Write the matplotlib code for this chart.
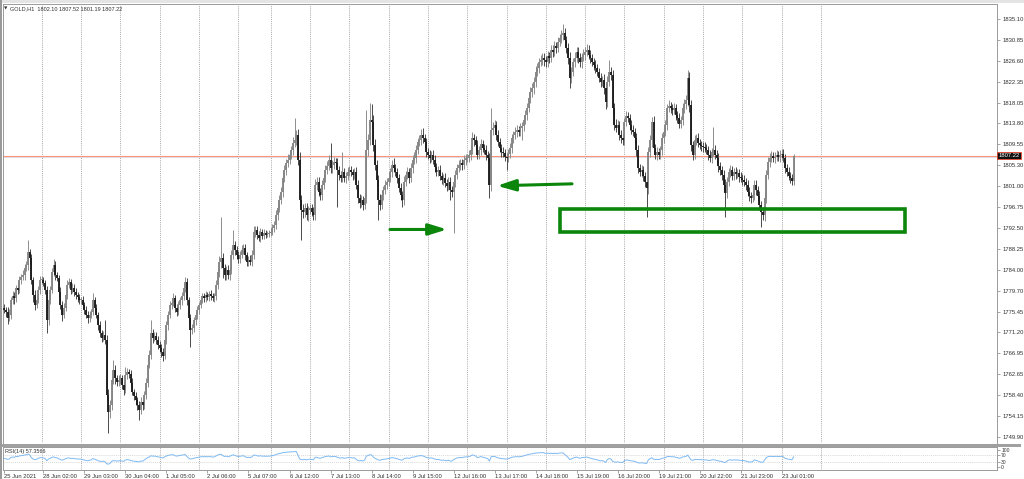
import numpy as np
import matplotlib
matplotlib.use("Agg")
import matplotlib.pyplot as plt
from matplotlib.patches import Rectangle
from matplotlib.transforms import blended_transform_factory

plt.rcParams['font.family'] = ['Liberation Sans', 'DejaVu Sans']

# ---------------- data (GOLD H1 closes, one list per trading day)
d25 = [1775.8,1775.4,1774.2,1774.8,1777.8,1778.6,1778.2,1780.3,1779.9,1781.9,1782.5,1782.9,1784.3,1784.9,1787.6,1786.4,1781.9,1778.8,1776.8,1777.8,1779.9,1781.9]
d28 = [1781.9,1781.3,1779.9,1773.7,1777.8,1779.9,1783.5,1784.9,1782.9,1782.3,1779.5,1776.8,1774.8,1776.2,1778.8,1780.9,1781.5,1779.9,1780.3,1779.5,1778.8,1778.4,1777.8]
d29 = [1777.8,1776.8,1775.8,1774.8,1774.1,1774.8,1775.4,1777.8,1776.2,1774.8,1772.7,1771.1,1770.1,1770.7,1769.7,1758.5,1755.0,1756.4,1761.5,1763.6,1761.9,1761.1,1761.5]
d30 = [1761.9,1760.5,1759.5,1762.5,1763.2,1762.8,1761.0,1759.1,1758.3,1757.4,1756.4,1755.4,1757.0,1756.4,1758.5,1761.0,1764.6,1766.6,1771.1,1770.1,1770.5,1769.7,1768.7]
d01 = [1768.0,1767.2,1766.4,1769.7,1772.7,1774.8,1776.8,1777.2,1778.2,1776.2,1775.4,1776.8,1777.8,1778.6,1780.3,1781.5,1777.8,1774.1,1771.7,1772.1,1773.7,1774.8,1775.8]
d02 = [1776.8,1777.8,1778.6,1778.2,1778.8,1778.4,1779.0,1778.6,1778.2,1778.6,1780.9,1783.5,1785.6,1786.4,1784.3,1782.9,1783.9,1782.9,1783.9,1787.0,1789.0,1788.0,1787.0]
d05 = [1786.2,1787.0,1788.0,1788.4,1787.0,1785.6,1786.0,1785.6,1787.0,1791.7,1792.1,1791.1,1790.5,1791.7,1790.9,1791.5,1791.1,1791.3,1791.5]
d06 = [1791.7,1792.5,1793.1,1795.1,1796.6,1798.2,1799.8,1802.7,1804.3,1805.7,1806.4,1807.4,1808.4,1809.8,1810.4,1811.5,1806.4,1798.2,1796.2,1795.8,1796.6,1795.1,1796.2]
d07 = [1796.6,1795.8,1795.1,1801.3,1801.9,1799.8,1799.2,1801.3,1802.7,1804.3,1805.1,1806.4,1804.7,1805.3,1806.0,1805.8,1804.3,1803.3,1802.7,1803.9,1802.7,1803.1,1803.9]
d08 = [1804.3,1803.9,1803.3,1803.9,1801.3,1798.6,1797.6,1798.2,1797.2,1798.6,1808.4,1810.4,1814.5,1814.1,1809.4,1805.3,1802.3,1798.2,1797.2,1799.2,1800.2,1801.3,1801.9]
d09 = [1802.7,1803.9,1805.3,1804.7,1803.9,1802.7,1800.6,1799.2,1798.2,1801.9,1803.3,1803.9,1802.7,1804.7,1806.4,1806.8,1808.4,1810.0,1810.4,1811.5,1810.8,1810.0,1808.0]
d12 = [1807.4,1806.8,1807.4,1806.4,1805.0,1804.0,1804.3,1803.1,1802.3,1802.7,1801.7,1801.1,1801.9,1800.2,1799.8,1801.9,1803.3,1804.7,1805.3,1805.7,1805.3,1806.4,1806.8]
d13 = [1806.8,1807.4,1808.4,1810.8,1810.4,1809.4,1807.4,1808.4,1809.6,1808.8,1808.4,1807.4,1806.8,1801.3,1812.5,1812.9,1813.5,1811.5,1810.0,1808.8,1808.0,1807.8,1807.0]
d14 = [1806.8,1807.6,1808.8,1810.8,1811.5,1812.1,1812.5,1812.1,1812.9,1813.3,1814.5,1815.5,1817.0,1819.0,1820.2,1821.0,1822.3,1824.3,1825.1,1826.3,1826.7,1827.2,1826.7]
d15 = [1826.3,1827.6,1827.2,1828.8,1828.4,1829.6,1829.2,1830.4,1831.2,1831.8,1832.2,1830.8,1829.2,1827.2,1823.1,1824.3,1826.3,1827.2,1828.4,1827.2,1826.3,1827.4,1827.8]
d16 = [1828.4,1828.8,1827.8,1827.2,1826.3,1825.7,1825.1,1824.3,1823.1,1822.3,1822.7,1821.0,1818.2,1822.3,1824.3,1823.7,1817.0,1813.5,1812.9,1813.5,1811.5,1810.8,1810.4]
d19 = [1814.1,1815.3,1814.9,1813.5,1812.5,1812.1,1810.8,1808.4,1804.7,1803.9,1804.3,1803.1,1801.9,1800.6,1808.0,1810.4,1814.1,1808.8,1807.4,1808.0,1807.4,1808.4,1810.8]
d20 = [1812.1,1813.5,1816.9,1817.4,1816.9,1816.5,1816.9,1815.5,1814.9,1813.7,1814.5,1816.9,1817.8,1818.6,1823.1,1817.6,1809.4,1807.4,1810.4,1810.8,1809.8,1809.4,1809.2]
d21 = [1809.0,1808.8,1808.4,1807.4,1806.8,1808.0,1808.4,1807.4,1806.8,1805.1,1804.3,1803.3,1801.3,1799.6,1801.9,1803.9,1804.3,1803.1,1803.9,1803.5,1803.7,1802.9,1802.7]
d22 = [1802.3,1801.9,1801.3,1799.8,1799.0,1798.6,1799.2,1801.3,1800.2,1799.0,1797.2,1795.8,1795.1,1798.6,1803.3,1805.9,1806.8,1807.2,1806.8,1807.0,1807.4,1807.0,1807.4]
d23 = [1807.6,1806.8,1804.7,1803.9,1803.1,1802.7,1802.1,1807.22]

# upper / lower wick lengths (price units) per bar, same day grouping
uw = [
 [0.8,0.6,0.9,1.2,0.7,1.0,0.8,0.6,1.1,0.9,0.7,1.0,0.8,0.9,2.4,0.7,0.9,0.6,1.0,0.8,0.7,0.9],
 [0.9,0.7,0.6,0.8,1.0,0.7,0.9,1.3,0.8,0.6,0.7,0.9,0.8,1.0,0.7,0.9,0.8,0.6,1.0,0.7,0.8,0.6,0.7],
 [0.7,0.8,0.6,0.9,0.7,0.8,0.6,1.4,0.7,0.8,0.6,0.9,0.7,0.8,3.1,0.9,1.2,1.0,0.8,2.0,0.9,0.7,1.0],
 [0.8,0.7,0.9,1.7,0.8,0.6,0.7,0.9,0.6,0.8,0.7,0.9,1.0,0.7,0.8,0.9,1.1,1.0,2.7,0.9,0.8,0.7,0.8],
 [0.7,0.8,0.9,1.0,0.8,0.7,0.9,0.8,1.0,0.7,0.8,0.9,0.7,0.8,0.9,1.0,0.8,0.7,0.9,0.8,0.7,0.8,0.9],
 [0.7,0.8,0.6,0.7,0.8,0.6,0.7,0.8,0.7,0.6,0.9,1.0,1.2,8.3,1.0,0.9,0.8,1.0,0.9,1.1,3.1,0.9,0.8],
 [0.9,0.8,1.0,0.9,0.8,0.7,0.8,0.9,1.0,1.2,0.9,0.8,0.7,0.8,0.6,0.7,0.6,0.5,0.6],
 [0.6,0.8,0.9,1.0,0.9,1.1,1.0,1.2,1.0,0.9,1.1,1.0,0.9,1.2,4.5,1.0,1.2,1.5,1.0,1.1,0.9,1.0,0.8],
 [0.8,0.7,0.9,1.2,1.0,0.9,0.8,1.0,0.9,1.1,1.0,0.9,3.4,1.0,0.9,0.8,1.0,0.9,0.8,4.1,0.9,0.8,1.0],
 [0.8,0.9,0.7,0.8,1.0,0.9,0.8,1.0,0.9,1.0,8.1,1.2,3.5,3.3,1.5,1.2,1.0,1.1,1.2,1.0,0.9,1.0,0.8],
 [0.9,0.8,1.0,1.5,0.9,0.8,0.9,1.0,0.8,1.1,0.9,1.0,0.8,1.0,0.9,1.1,1.0,0.9,1.0,1.1,1.4,0.9,0.8],
 [0.9,1.0,0.8,0.9,1.0,0.8,0.9,1.0,0.8,0.9,1.0,0.8,0.9,1.0,0.8,1.2,1.0,0.9,1.0,0.8,0.9,1.0,0.8],
 [0.8,0.9,1.0,1.2,0.9,0.8,1.0,0.9,1.1,0.8,0.9,1.0,0.8,1.0,4.4,1.2,1.0,0.9,1.0,0.8,0.9,1.0,0.8],
 [0.8,0.9,1.0,0.9,0.8,1.0,0.9,0.8,1.0,0.9,1.1,1.0,0.9,1.2,1.0,1.1,0.9,1.2,1.0,0.9,1.1,1.0,0.9],
 [0.9,1.0,0.8,1.1,0.9,1.0,0.8,1.0,0.9,1.1,1.8,1.0,0.9,1.0,1.2,1.0,0.9,1.1,1.0,0.9,1.0,0.8,1.1],
 [0.9,1.2,0.9,1.0,0.8,0.9,1.0,0.8,0.9,1.0,0.8,1.1,1.0,1.2,2.4,1.1,1.0,0.9,1.2,1.0,0.9,1.0,0.8],
 [0.9,1.0,0.9,0.8,1.0,0.9,0.8,1.0,1.1,0.9,1.0,0.8,0.9,1.2,1.1,1.0,1.0,1.2,0.9,1.0,0.8,0.9,1.0],
 [0.9,1.0,0.9,1.2,0.8,0.9,1.0,0.8,0.9,1.0,0.8,1.0,0.9,1.0,1.6,1.2,1.0,0.9,1.1,0.9,1.0,0.8,0.9],
 [0.9,1.0,0.8,0.9,1.0,0.8,4.7,1.0,0.9,1.0,0.8,0.9,1.0,1.1,1.0,0.9,1.0,0.8,0.9,1.0,0.8,0.9,1.0],
 [0.9,1.0,0.8,0.9,1.0,0.8,0.9,1.0,0.9,0.8,1.0,0.9,1.0,1.2,1.1,1.0,0.9,1.0,0.8,0.9,1.0,0.8,1.0],
 [0.9,1.0,0.8,0.9,1.0,0.8,0.9,0.3],
]
lw = [
 [0.7,1.0,1.3,0.6,0.9,0.8,1.1,0.7,0.9,0.6,0.8,0.7,1.0,0.6,0.9,1.2,0.8,1.4,1.0,0.7,0.6,0.8],
 [0.8,0.6,0.9,2.6,1.0,0.7,0.6,0.8,0.9,0.7,1.0,0.8,1.2,0.7,0.6,0.8,0.7,0.9,0.6,0.8,0.7,0.9,0.8],
 [0.8,0.7,0.9,0.6,1.0,0.8,0.7,0.6,0.9,0.7,1.0,0.8,0.9,0.7,0.8,1.0,4.3,1.2,0.9,0.8,1.1,0.9,0.8],
 [0.9,0.8,1.0,0.7,0.8,0.9,0.7,0.6,0.8,0.9,1.0,2.0,0.8,0.9,0.7,0.8,0.9,0.7,0.8,1.0,0.7,0.9,0.8],
 [0.8,0.9,1.1,0.7,0.8,0.9,0.7,0.8,0.6,0.9,0.8,0.7,0.8,0.9,0.7,0.8,0.9,1.0,3.5,0.8,0.7,0.9,0.8],
 [0.8,0.7,0.6,0.8,0.7,0.6,0.8,0.7,0.6,0.7,0.8,0.9,1.0,1.2,2.0,1.0,0.9,0.8,1.0,0.8,0.9,1.0,0.8],
 [0.8,0.9,0.7,0.8,1.0,0.9,0.8,0.7,0.9,0.8,1.0,0.9,0.7,0.8,0.6,0.7,0.6,0.5,0.6],
 [0.6,0.7,0.8,0.9,1.0,0.8,0.9,1.0,0.8,0.9,0.7,0.8,0.9,1.0,0.8,0.9,1.0,1.5,6.2,1.2,1.0,0.9,1.1],
 [0.9,0.8,1.0,0.9,1.1,0.8,0.9,1.0,0.8,0.9,0.7,0.8,1.0,0.9,0.8,0.9,7.5,1.0,0.9,0.8,0.9,1.0,0.8],
 [0.8,0.9,1.0,0.8,0.9,1.0,1.1,0.9,1.0,0.8,1.0,1.2,1.0,1.5,1.2,1.0,1.3,4.1,1.1,0.9,1.0,0.8,0.9],
 [0.8,0.9,1.0,0.8,0.9,1.0,0.8,0.9,1.4,1.0,0.8,0.9,1.0,0.8,0.9,0.8,1.0,0.9,0.8,1.0,0.9,1.0,1.1],
 [0.8,1.0,0.9,0.8,1.0,0.9,1.0,0.8,0.9,1.0,0.8,1.1,0.9,2.0,1.0,8.3,1.0,0.9,0.8,1.0,0.9,0.8,1.0],
 [0.9,0.8,1.0,0.9,1.1,1.0,0.9,0.8,1.0,0.9,0.8,1.0,0.9,2.7,1.2,1.0,0.9,1.0,0.8,0.9,1.0,0.8,0.9],
 [2.5,0.9,0.8,1.0,0.9,0.8,1.0,0.9,0.8,2.5,1.0,0.9,1.0,0.8,1.0,0.9,1.1,1.0,0.9,1.0,0.8,0.9,1.2],
 [1.0,0.9,1.1,0.8,1.0,0.9,1.0,0.8,0.9,1.0,0.9,1.1,1.0,1.2,2.0,1.0,0.9,1.0,0.8,1.0,0.9,1.1,0.8],
 [1.0,0.8,0.9,1.0,0.8,0.9,1.0,0.9,0.8,1.0,0.9,1.1,1.4,1.0,0.9,1.1,1.2,1.0,0.9,1.0,1.1,0.9,1.0],
 [1.0,0.9,0.8,1.0,0.9,0.8,1.0,1.2,1.0,0.9,1.0,1.1,1.0,5.9,1.2,1.0,1.3,1.0,0.9,1.0,0.8,0.9,1.0],
 [1.0,0.9,1.0,0.8,0.9,1.0,0.8,0.9,1.0,0.9,0.8,1.0,0.9,1.0,1.2,1.5,1.3,1.0,0.9,1.0,0.8,0.9,1.0],
 [1.0,0.9,0.8,1.0,0.9,1.0,0.8,0.9,1.0,1.1,0.9,1.0,1.2,4.9,1.0,0.9,1.0,0.8,0.9,1.0,0.8,1.0,0.9],
 [1.0,0.9,1.0,0.8,0.9,1.0,0.8,0.9,1.0,0.9,1.1,3.1,1.0,1.2,1.0,0.9,1.0,0.8,0.9,1.0,0.9,0.8,1.0],
 [1.0,0.9,1.0,0.8,0.9,1.0,0.8,0.9],
]
first_open = 1776.2

day_start_bars = [22, 45, 68, 91, 114, 137, 156, 179, 202, 225, 248, 271, 294, 317, 340,
                  363, 386, 409, 432, 455, 478]
time_label_bars = [0, 23, 47, 71, 95, 119, 143, 167, 191, 215, 239, 263, 287, 311, 335,
                   359, 383, 407, 431, 455]
time_labels = ["25 Jun 2021", "28 Jun 02:00", "29 Jun 03:00", "30 Jun 04:00", "1 Jul 05:00",
               "2 Jul 06:00", "5 Jul 07:00", "6 Jul 12:00", "7 Jul 13:00", "8 Jul 14:00",
               "9 Jul 15:00", "12 Jul 16:00", "13 Jul 17:00", "14 Jul 18:00", "15 Jul 19:00",
               "16 Jul 20:00", "19 Jul 21:00", "20 Jul 22:00", "21 Jul 23:00", "23 Jul 01:00"]
price_ticks = [1835.10, 1830.85, 1826.60, 1822.35, 1818.05, 1813.80, 1809.55, 1805.30,
               1801.00, 1796.75, 1792.50, 1788.25, 1784.00, 1779.70, 1775.45, 1771.20,
               1766.95, 1762.65, 1758.40, 1754.15, 1749.90]
rsi_ticks = [100, 70, 30, 0]
last_price = 1807.22
header = "GOLD,H1  1802.10 1807.52 1801.19 1807.22"
rsi_label = "RSI(14) 57.3566"

# green annotations (bar index, price)
support_box = (325.0, 1791.7, 527.2, 1796.3)
arrow_right = ((225.8, 1792.2), (259.2, 1792.2))   # tail, tip
arrow_left = ((332.3, 1801.5), (288.4, 1801.1))    # tail, tip

# ---------------- assemble series
days = [d25, d28, d29, d30, d01, d02, d05, d06, d07, d08, d09, d12, d13, d14, d15, d16,
        d19, d20, d21, d22, d23]
closes = np.concatenate([np.array(d, float) for d in days])

def fit(lst, n):
    lst = list(lst)[:n]
    return lst + [lst[-1]] * (n - len(lst))

upw = np.concatenate([fit(u, len(d)) for u, d in zip(uw, days)])
loww = np.concatenate([fit(l, len(d)) for l, d in zip(lw, days)])
opens = np.concatenate([[first_open], closes[:-1]])
highs = np.maximum(opens, closes) + upw
lows = np.minimum(opens, closes) - loww
n = len(closes)
idx = np.arange(n)

# RSI(14), Wilder smoothing
delta = np.diff(closes, prepend=closes[0])
gain = np.clip(delta, 0, None)
loss = np.clip(-delta, 0, None)
ag = np.zeros(n); al = np.zeros(n)
seed = np.mean(np.abs(delta[1:15])) / 2
ag[0] = seed; al[0] = seed
for i in range(1, n):
    ag[i] = (ag[i - 1] * 13 + gain[i]) / 14
    al[i] = (al[i - 1] * 13 + loss[i]) / 14
rsi = 100 - 100 / (1 + ag / np.maximum(al, 1e-9))

# ---------------- layout helpers (pixel geometry of the terminal window)
W, H = 1024, 479
BAR_PX, BAR0_PX = 1.709, 4.1
P_REF, PY_REF, PX_PER_USD = 1835.10, 19.0, 4.906

def ix(px):
    return (px - BAR0_PX) / BAR_PX

def pr(py):
    return P_REF - (py - PY_REF) / PX_PER_USD

def fr(x0, y0, x1, y1):
    return [x0 / W, 1 - y1 / H, (x1 - x0) / W, (y1 - y0) / H]

fig = plt.figure(figsize=(W / 100, H / 100), dpi=100)
fig.patch.set_facecolor('white')

ax = fig.add_axes(fr(3, 4, 997, 443))
axr = fig.add_axes(fr(3, 447, 997, 470))

grid_col = '#8a8a8a'
for a in (ax, axr):
    a.set_facecolor('white')
    a.set_xlim(ix(3), ix(997))
    for sp in a.spines.values():
        sp.set_color('#9a9a9a')
        sp.set_linewidth(0.7)
    for d in day_start_bars:
        a.axvline(d, color=grid_col, lw=0.55, ls=(0, (1.2, 1.6)), zorder=0)

ax.set_ylim(pr(443), pr(4))
ax.spines['bottom'].set_visible(False)

# candles
up = closes >= opens
body_lo = np.minimum(opens, closes)
body_hi = np.maximum(np.maximum(opens, closes), body_lo + 0.25)
ax.vlines(idx[up], lows[up], highs[up], color='#8e8e8e', lw=0.7, zorder=2)
ax.vlines(idx[~up], lows[~up], highs[~up], color='#4a4a4a', lw=0.7, zorder=2)
ax.vlines(idx[up], body_lo[up], body_hi[up], color='#858585', lw=1.35, zorder=3)
ax.vlines(idx[~up], body_lo[~up], body_hi[~up], color='#1c1c1c', lw=1.35, zorder=3)

# price lines
ax.axhline(last_price - 0.3, color='#d9dbe6', lw=0.6, zorder=1)
ax.axhline(last_price, color='#ff9478', lw=0.8, zorder=1)

# price axis
ax.yaxis.tick_right()
ax.set_yticks(price_ticks)
ax.set_yticklabels([f"{v:.2f}" for v in price_ticks])
ax.tick_params(axis='y', length=2.5, width=0.5, color='#808080', pad=1.5,
               labelsize=4.2, labelcolor='#303030')
ax.set_xticks([])
trans = blended_transform_factory(ax.transAxes, ax.transData)
ax.text(1.0015, last_price, f"{last_price:.2f}", transform=trans, fontsize=4.2,
        color='white', va='center', ha='left', clip_on=False, zorder=10,
        bbox=dict(boxstyle='square,pad=0.2', fc='#111111', ec='#ff3b1f', lw=0.5))

# annotations
gcol = '#0b860b'
x0b, y0b, x1b, y1b = support_box
ax.add_patch(Rectangle((x0b, y0b), x1b - x0b, y1b - y0b, fill=False, ec=gcol, lw=2.6,
                       zorder=6, joinstyle='miter'))
for tail, tip in (arrow_right, arrow_left):
    ax.annotate('', xy=tip, xytext=tail, zorder=6,
                arrowprops=dict(arrowstyle='-|>,head_length=0.55,head_width=0.17',
                                color=gcol, lw=2.2, mutation_scale=20,
                                shrinkA=0, shrinkB=0))

# RSI pane
axr.set_ylim(-16.7, 116.7)
axr.plot(idx, rsi, color='#7fbaf2', lw=0.7, zorder=3)
for lvl in (70, 30):
    axr.axhline(lvl, color='#c4c4c4', lw=0.5, ls=(0, (1.2, 1.6)), zorder=1)
axr.yaxis.tick_right()
axr.set_yticks(rsi_ticks)
axr.set_yticklabels([str(v) for v in rsi_ticks])
axr.tick_params(axis='y', length=2, width=0.5, color='#808080', pad=1, labelsize=3.6,
                labelcolor='#303030')
axr.set_xticks(time_label_bars)
axr.set_xticklabels(time_labels)
axr.tick_params(axis='x', length=2, width=0.5, color='#808080', pad=1.2, labelsize=4.2,
                labelcolor='#303030')
for t in axr.get_xticklabels():
    t.set_ha('left')

# separators / frame
fig.add_artist(Rectangle((0, 1 - 446.5 / H), 1021 / W, 3 / H, transform=fig.transFigure,
                         fc='#a0a0a0', ec='none'))
fig.add_artist(Rectangle((0, 1 - 3 / H), 1, 3 / H, transform=fig.transFigure,
                         fc='#e4e4e4', ec='none'))
fig.add_artist(Rectangle((0, 0), 1.5 / W, 1, transform=fig.transFigure,
                         fc='#9a9a9a', ec='none'))

fig.text(4 / W, 1 - 8.5 / H, '\u25bc', fontsize=3.2, color='#303030', va='center',
         family=['DejaVu Sans'])
fig.text(10 / W, 1 - 8.5 / H, header, fontsize=4.0, color='#303030', va='center')
fig.text(5 / W, 1 - 451.5 / H, rsi_label, fontsize=4.0, color='#303030', va='center')

fig.savefig('out.png', dpi=100, facecolor='white')
